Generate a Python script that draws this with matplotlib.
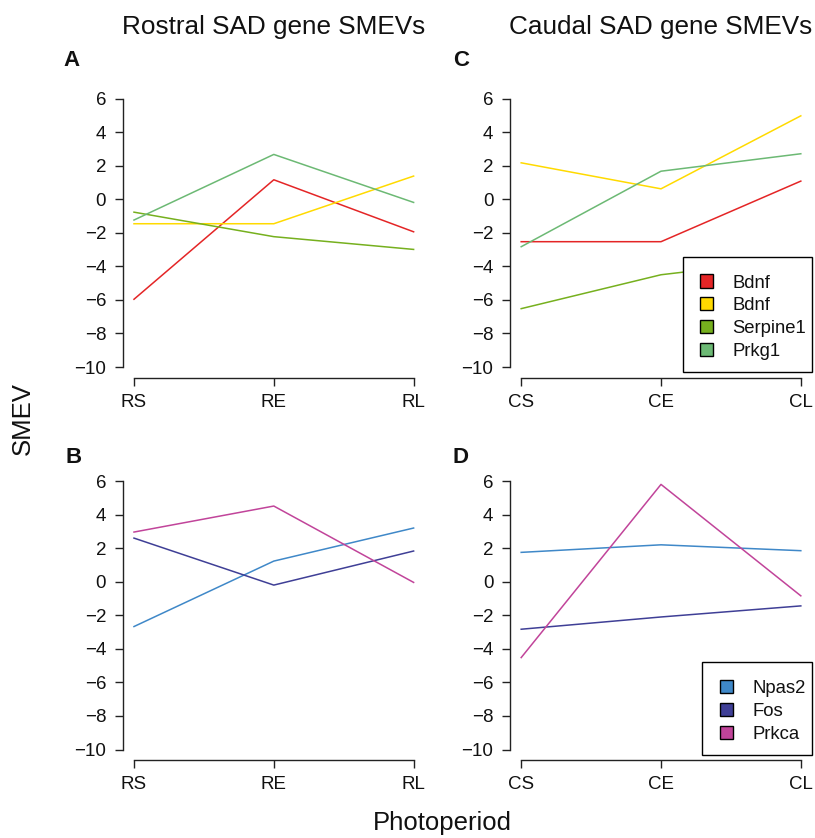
import matplotlib
matplotlib.use("Agg")
import matplotlib.pyplot as plt
from matplotlib.patches import Rectangle

plt.rcParams['font.family'] = ['Liberation Sans', 'DejaVu Sans']

# data
rostral_x = ["RS", "RE", "RL"]
caudal_x = ["CS", "CE", "CL"]

top_names = ["Bdnf", "Bdnf", "Serpine1", "Prkg1"]
top_colors = ["#E42526", "#FFDA00", "#76B01E", "#6CB974"]
rostral_top = [
    [-5.96, 1.16, -1.94],
    [-1.46, -1.46, 1.38],
    [-0.77, -2.23, -2.99],
    [-1.24, 2.67, -0.19],
]
caudal_top = [
    [-2.53, -2.53, 1.08],
    [2.17, 0.62, 4.97],
    [-6.52, -4.50, -3.52],
    [-2.83, 1.67, 2.71],
]

bot_names = ["Npas2", "Fos", "Prkca"]
bot_colors = ["#3F88C8", "#3F3F96", "#C1449A"]
rostral_bot = [
    [-2.67, 1.23, 3.20],
    [2.60, -0.20, 1.83],
    [2.96, 4.51, -0.04],
]
caudal_bot = [
    [1.75, 2.20, 1.85],
    [-2.83, -2.10, -1.44],
    [-4.52, 5.80, -0.84],
]

yticks = [6, 4, 2, 0, -2, -4, -6, -8, -10]

W, H = 815, 838
fig = plt.figure(figsize=(W / 100, H / 100), dpi=100)


def fx(px):
    return px / W


def fy(py):
    return 1 - py / H


def make_ax(left, top, labels, series, colors):
    ax = fig.add_axes([fx(left), fy(top + 290), 302 / W, 290 / H])
    pos = [1, 2, 3]
    for vals, c in zip(series, colors):
        ax.plot(pos, vals, color=c, lw=1.1)
    ax.set_xlim(0.92, 3.08)
    ax.set_ylim(-10.64, 6.64)
    ax.set_xticks(pos)
    ax.set_xticklabels(labels)
    ax.set_yticks(yticks)
    ax.set_yticklabels([str(t).replace("-", "\u2212") for t in yticks])
    for s in ["top", "right"]:
        ax.spines[s].set_visible(False)
    ax.spines["left"].set_bounds(-10, 6)
    ax.spines["bottom"].set_bounds(1, 3)
    for s in ["left", "bottom"]:
        ax.spines[s].set_linewidth(1.0)
        ax.spines[s].set_color("#222222")
    ax.tick_params(axis="both", length=6, width=1.0, color="#222222",
                   labelsize=13.5, labelcolor="#111111")
    ax.tick_params(axis="y", pad=6)
    ax.tick_params(axis="x", pad=5.5)
    return ax


axA = make_ax(122.8, 87.8, rostral_x, rostral_top, top_colors)
axC = make_ax(510, 87.8, caudal_x, caudal_top, top_colors)
axB = make_ax(122.8, 470.3, rostral_x, rostral_bot, bot_colors)
axD = make_ax(510, 470.3, caudal_x, caudal_bot, bot_colors)


# R-style legend box: drawn in pixel positions on the figure
def add_legend(names, colors, box, key_x, text_x, row0, step):
    x0, y0, x1, y1 = box
    fig.patches.append(Rectangle((fx(x0), fy(y1)), fx(x1) - fx(x0), fy(y0) - fy(y1),
                                 transform=fig.transFigure, facecolor="white",
                                 edgecolor="black", lw=1.0, zorder=5))
    s = 13
    for i, (n, c) in enumerate(zip(names, colors)):
        yc = row0 + i * step
        fig.patches.append(Rectangle((fx(key_x - s / 2), fy(yc + s / 2)), s / W, s / H,
                                     transform=fig.transFigure, facecolor=c,
                                     edgecolor="black", lw=1.0, zorder=6))
        fig.text(fx(text_x), fy(yc), n, ha="left", va="center_baseline",
                 fontsize=13.3, color="#111111", zorder=6)


add_legend(top_names, top_colors, (683, 257, 811.5, 372), 706.5, 732, 281, 22.7)
add_legend(bot_names, bot_colors, (702, 662, 811.5, 755), 726, 752, 686, 23)

fig.text(fx(274), fy(27), "Rostral SAD gene SMEVs", ha="center", va="center",
         fontsize=18.8, color="#111111")
fig.text(fx(661), fy(27), "Caudal SAD gene SMEVs", ha="center", va="center",
         fontsize=18.8, color="#111111")

for lab, x, y in [("A", 72, 60), ("C", 461, 60), ("B", 74, 457), ("D", 461, 457)]:
    fig.text(fx(x), fy(y), lab, ha="center", va="center", fontsize=16,
             fontweight="bold", color="#111111")

fig.text(fx(23), fy(419), "SMEV", rotation=90, ha="center", va="center",
         fontsize=18.5, color="#111111")
fig.text(fx(442), fy(823), "Photoperiod", ha="center", va="center",
         fontsize=18.5, color="#111111")

fig.savefig("out.png", dpi=100)
